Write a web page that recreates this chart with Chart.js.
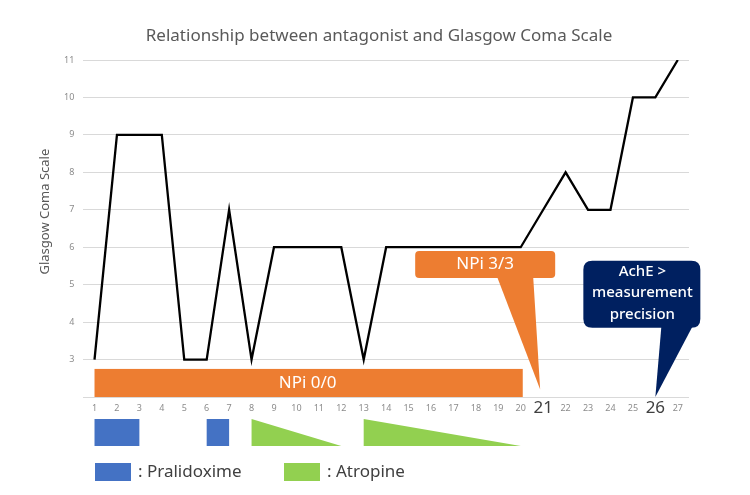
<!DOCTYPE html>
<html>
<head>
<meta charset="utf-8">
<script src="https://cdn.jsdelivr.net/npm/chart.js@4/dist/chart.umd.min.js"></script>
<style>
  html, body { margin: 0; padding: 0; background: #fff; }
  #wrap { width: 750px; height: 495px; }
</style>
</head>
<body>
<div id="wrap"><canvas id="chart"></canvas></div>
<script>
// data
const days = ['1','2','3','4','5','6','7','8','9','10','11','12','13','14','15','16','17','18','19','20','21','22','23','24','25','26','27'];
const gcs = [3, 9, 9, 9, 3, 3, 7, 3, 6, 6, 6, 6, 3, 6, 6, 6, 6, 6, 6, 6, 7, 8, 7, 7, 10, 10, 11];
const bigDays = ['21', '26'];

// treatment periods (first day, last day)
const pralidoxime = [[1, 3], [6, 7]];
const atropine = [[8, 12], [13, 20]];

// NPi / AchE notes
const npiLow = { label: 'NPi 0/0', from: 1, to: 20, top: 2.75 };
const npiHigh = { label: 'NPi 3/3', day: 21, top: 5.9 };
const ache = { lines: ['AchE >', 'measurement', 'precision'], day: 26, top: 5.64 };

const TITLE = 'Relationship between antagonist and Glasgow Coma Scale';
const Y_TITLE = 'Glasgow Coma Scale';
const FONT = "'Noto Sans', sans-serif";
const BLUE = '#4472C4';
const GREEN = '#92D050';
const ORANGE = '#ED7D31';
const NAVY = '#002060';

function roundRect(ctx, x, y, w, h, r) {
    ctx.beginPath();
    ctx.moveTo(x + r, y);
    ctx.lineTo(x + w - r, y);
    ctx.quadraticCurveTo(x + w, y, x + w, y + r);
    ctx.lineTo(x + w, y + h - r);
    ctx.quadraticCurveTo(x + w, y + h, x + w - r, y + h);
    ctx.lineTo(x + r, y + h);
    ctx.quadraticCurveTo(x, y + h, x, y + h - r);
    ctx.lineTo(x, y + r);
    ctx.quadraticCurveTo(x, y, x + r, y);
    ctx.closePath();
}

// draws titles, NPi bar, callouts, treatment bars and the legend under the axis
const notes = {
    id: 'notes',
    afterDatasetsDraw(chart) {
        const ctx = chart.ctx;
        const xs = chart.scales.x;
        const ys = chart.scales.y;
        const px = d => xs.getPixelForValue(d - 1);
        const base = chart.chartArea.bottom;
        ctx.save();

        // title (slightly right of centre, as in the original)
        ctx.fillStyle = '#595959';
        ctx.font = '17px ' + FONT;
        ctx.textAlign = 'center';
        ctx.textBaseline = 'middle';
        ctx.fillText(TITLE, chart.width / 2 + 4, 36);

        // y axis title, sits a bit above the middle of the axis
        ctx.save();
        ctx.translate(45, ys.getPixelForValue(6.95));
        ctx.rotate(-Math.PI / 2);
        ctx.font = '13px ' + FONT;
        ctx.fillText(Y_TITLE, 0, 0);
        ctx.restore();

        // NPi 0/0 bar
        ctx.fillStyle = ORANGE;
        const bTop = ys.getPixelForValue(npiLow.top);
        ctx.fillRect(px(npiLow.from), bTop, px(npiLow.to) - px(npiLow.from) + 2, ys.getPixelForValue(2) - bTop);
        ctx.fillStyle = '#fff';
        ctx.fillText(npiLow.label, (px(npiLow.from) + px(npiLow.to)) / 2, (bTop + base) / 2);

        // NPi 3/3 callout
        let tx = px(npiHigh.day) - 3;
        let ty = ys.getPixelForValue(2.2);
        let boxTop = ys.getPixelForValue(npiHigh.top);
        ctx.fillStyle = ORANGE;
        roundRect(ctx, tx - 125, boxTop, 140, 27, 4);
        ctx.fill();
        ctx.beginPath();
        ctx.moveTo(tx - 43, boxTop + 26);
        ctx.lineTo(tx - 7, boxTop + 26);
        ctx.lineTo(tx, ty);
        ctx.closePath();
        ctx.fill();
        ctx.fillStyle = '#fff';
        ctx.fillText(npiHigh.label, tx - 55, boxTop + 13.5);

        // AchE callout
        tx = px(ache.day);
        ty = ys.getPixelForValue(2);
        boxTop = ys.getPixelForValue(ache.top);
        ctx.fillStyle = NAVY;
        roundRect(ctx, tx - 72, boxTop, 117, 67, 9);
        ctx.fill();
        ctx.beginPath();
        ctx.moveTo(tx + 6, boxTop + 66);
        ctx.lineTo(tx + 37, boxTop + 66);
        ctx.lineTo(tx, ty);
        ctx.closePath();
        ctx.fill();
        ctx.fillStyle = '#fff';
        ctx.font = '500 15px ' + FONT;
        ache.lines.forEach((t, i) => {
            ctx.fillText(t, tx - 13, boxTop + 11 + i * 21.5);
        });

        // treatment bars under the axis
        const top = base + 22;
        const h = 27;
        ctx.fillStyle = BLUE;
        pralidoxime.forEach(p => {
            ctx.fillRect(px(p[0]), top, px(p[1]) - px(p[0]), h);
        });
        ctx.fillStyle = GREEN;
        atropine.forEach(p => {
            ctx.beginPath();
            ctx.moveTo(px(p[0]), top);
            ctx.lineTo(px(p[1]), top + h);
            ctx.lineTo(px(p[0]), top + h);
            ctx.closePath();
            ctx.fill();
        });

        // legend
        const ly = base + 66;
        ctx.font = '17px ' + FONT;
        ctx.textAlign = 'left';
        ctx.fillStyle = BLUE;
        ctx.fillRect(95, ly, 36, 18);
        ctx.fillStyle = '#404040';
        ctx.fillText(': Pralidoxime', 138, ly + 9);
        ctx.fillStyle = GREEN;
        ctx.fillRect(284, ly, 36, 18);
        ctx.fillStyle = '#404040';
        ctx.fillText(': Atropine', 327, ly + 9);

        ctx.restore();
    }
};

const chart = document.querySelector('#chart').getContext('2d');

new Chart(chart, {
    type: 'line',
    data: {
        labels: days,
        datasets: [
            {
                label: 'Glasgow Coma Scale',
                data: gcs,
                borderColor: '#000',
                borderWidth: 2.3,
                pointRadius: 0,
                tension: 0
            }
        ]
    },
    options: {
        responsive: true,
        maintainAspectRatio: false,
        animation: false,
        layout: {
            padding: { top: 60, left: 55, right: 61, bottom: 76 }
        },
        plugins: {
            legend: { display: false },
            tooltip: { enabled: false },
            title: { display: false }
        },
        scales: {
            x: {
                offset: true,
                grid: { display: false, drawTicks: false },
                border: { display: false },
                ticks: {
                    autoSkip: false,
                    maxRotation: 0,
                    padding: 2,
                    color: ctx => bigDays.includes(days[ctx.index]) ? '#404040' : '#8c8c8c',
                    font: ctx => ({
                        family: FONT,
                        size: bigDays.includes(days[ctx.index]) ? 17 : 9,
                        lineHeight: '18px'
                    })
                }
            },
            y: {
                min: 2,
                max: 11,
                grid: { color: '#d9d9d9', drawTicks: false },
                border: { display: false },
                ticks: {
                    stepSize: 1,
                    padding: 9,
                    color: '#8c8c8c',
                    font: { family: FONT, size: 9 },
                    callback: v => v === 2 ? '' : v
                }
            }
        }
    },
    plugins: [notes]
})
</script>
</body>
</html>
